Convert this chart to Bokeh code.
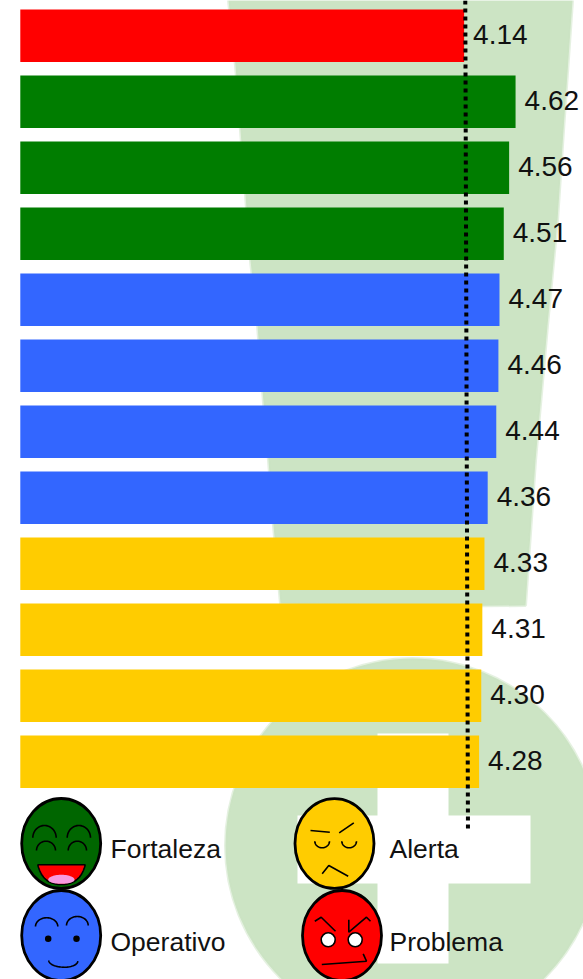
import numpy as np
from bokeh.core.properties import value
from bokeh.embed import file_html
from bokeh.models import ColumnDataSource, Range1d
from bokeh.plotting import figure
from bokeh.resources import INLINE

# Scores, top bar first, with the band each one falls in
scores = [4.14, 4.62, 4.56, 4.51, 4.47, 4.46, 4.44, 4.36, 4.33, 4.31, 4.30, 4.28]
bands = ["Problema", "Fortaleza", "Fortaleza", "Fortaleza", "Operativo", "Operativo",
         "Operativo", "Operativo", "Alerta", "Alerta", "Alerta", "Alerta"]
band_colors = {"Problema": "#FF0000", "Fortaleza": "#007D00", "Operativo": "#3366FF", "Alerta": "#FFCC00"}
reference_score = [4.151, 4.176]

W, H = 583, 979
X0, X_UNIT = 19.8, 107.2         # score scale: pixel of zero, pixels per point
Y0, Y_UNIT = 35.3, 66.0          # row scale: centre of first row, pixels per row
GREEN_MARK = "#CCE4C4"
STROKE = 1.6

p = figure(width=W, height=H, output_backend="svg", toolbar_location=None,
           x_range=Range1d(-X0 / X_UNIT, (W - X0) / X_UNIT),
           y_range=Range1d((H - Y0) / Y_UNIT, -Y0 / Y_UNIT),
           min_border=0, outline_line_color=None, background_fill_color="white",
           border_fill_color="white")
p.xaxis.visible = False
p.yaxis.visible = False
p.grid.visible = False
# Page-pixel ranges for the decoration and the face icons
p.extra_x_ranges["px"] = Range1d(0, W)
p.extra_y_ranges["px"] = Range1d(H, 0)
PX = dict(x_range_name="px", y_range_name="px")


def curve(x0, y0, cx, cy, x1, y1, n=24):
    t = np.linspace(0, 1, n)
    return ((1 - t) ** 2 * x0 + 2 * t * (1 - t) * cx + t ** 2 * x1,
            (1 - t) ** 2 * y0 + 2 * t * (1 - t) * cy + t ** 2 * y1)


def bow(x0, y0, apex, x1, y1, n=32):
    # Half-ellipse between two ends, passing through the apex height
    a = np.linspace(0, np.pi, n)
    t = (1 - np.cos(a)) / 2
    base = y0 + (y1 - y0) * t
    return x0 + (x1 - x0) * t, base + (apex - (y0 + y1) / 2) * np.sin(a)


# Pale green emblem behind the bars: tapered band, disc and white cross
band_x = [228, 235, 240, 245, 250, 257, 262, 268, 273, 280, 400, 525, 535, 547, 557, 563, 572]
band_y = [0, 65, 130, 195, 260, 325, 390, 460, 525, 603, 606, 605, 460, 325, 220, 130, 0]
p.patch(band_x, band_y, fill_color=GREEN_MARK, line_color=GREEN_MARK, line_alpha=0.5, line_width=3, **PX)
p.ellipse([412], [845], width=374, height=374, fill_color=GREEN_MARK, line_color=GREEN_MARK,
          line_alpha=0.5, line_width=3, **PX)
p.quad(left=[377, 297], right=[448, 530], top=[733, 815], bottom=[963, 883],
       fill_color="white", line_color=None, **PX)

# Score bars
source = ColumnDataSource(dict(
    row=list(range(len(scores))),
    score=scores,
    color=[band_colors[b] for b in bands],
    label=[f"{s:.2f}" for s in scores],
))
p.hbar(y="row", left=0, right="score", height=0.795, fill_color="color", line_color=None, source=source)

# Dotted reference line
p.line(reference_score, [0, 829], line_color="black", line_width=4, line_dash="4 4", y_range_name="px")

# Value labels
p.text(x="score", y="row", text="label", source=source, x_offset=9, y_offset=-1, text_baseline="middle",
       text_align="left", text_font=value("Liberation Sans"), text_font_size="28px", text_color="#111111")


# Legend faces
def head(cx, cy, color):
    p.ellipse([cx], [cy], width=79, height=90, fill_color=color, line_color="black", line_width=2.8, **PX)


def stroke(points, width=STROKE):
    xs, ys = zip(*points)
    p.line(list(xs), list(ys), line_color="black", line_width=width, **PX)


def arc(x0, y0, apex, x1, y1, width=STROKE):
    xs, ys = bow(x0, y0, apex, x1, y1)
    p.line(xs, ys, line_color="black", line_width=width, **PX)


# Fortaleza
head(60.7, 843, "#006600")
arc(32.3, 837.3, 825, 55.7, 837.3)
arc(36, 850, 840.7, 55, 850)
arc(66.7, 837.3, 825, 90, 837.3)
arc(67.7, 850, 840.7, 86, 850)
ax, ay = curve(37.3, 864.3, 42, 884, 60.7, 884)
bx, by = curve(60.7, 884, 80, 884, 84.7, 864.3)
p.patch(list(ax) + list(bx), list(ay) + list(by), fill_color="#FF0000", line_color="black", line_width=STROKE, **PX)
tx0, ty0 = bow(47.7, 879.3, 874.3, 74, 879.3)
tx1, ty1 = bow(74, 879.3, 883.3, 47.7, 879.3)
p.patch(list(tx0) + list(tx1), list(ty0) + list(ty1), fill_color="#F79AE0", line_color=None, **PX)

# Operativo
head(60.7, 935, "#3366FF")
arc(35, 926, 917.3, 57.3, 926)
arc(66, 925, 916, 87.7, 925)
p.scatter([47.7, 76], [938.3, 938.3], size=6.5, fill_color="black", line_color=None, **PX)
arc(48.3, 960, 966.7, 77.3, 960.7)

# Alerta
head(334, 843, "#FFCC00")
stroke([(310, 830), (329.3, 831.7)])
stroke([(338.7, 832.3), (353.3, 822.3)])
arc(314.3, 840.7, 847.3, 329, 840.7)
arc(341.3, 840.7, 847.3, 356, 840.7)
stroke([(321.7, 873.3), (328.3, 865), (347.7, 875.7)])

# Problema
head(341.5, 935, "#FF0000")
stroke([(314.3, 920.7), (320.7, 916.7), (335, 930.7)])
stroke([(348.3, 919.3), (348.3, 931.7), (366, 916.7), (370, 920.7)])
p.scatter([327.7, 354.7], [939.3, 939.3], size=14, fill_color="white", line_color="black", line_width=1.6, **PX)
stroke([(321.3, 964), (366, 960.7), (362.7, 953.3)])

# Legend labels
legend_names = ["Fortaleza", "Operativo", "Alerta", "Problema"]
legend_x = [110, 110, 389, 389]
legend_y = [848, 941, 848, 941]
p.text(legend_x, legend_y, text=legend_names, text_baseline="middle", text_align="left",
       text_font=value("Liberation Sans"), text_font_size="26.5px", text_color="#111111", **PX)

open("out.html", "w").write(file_html(p, INLINE))
